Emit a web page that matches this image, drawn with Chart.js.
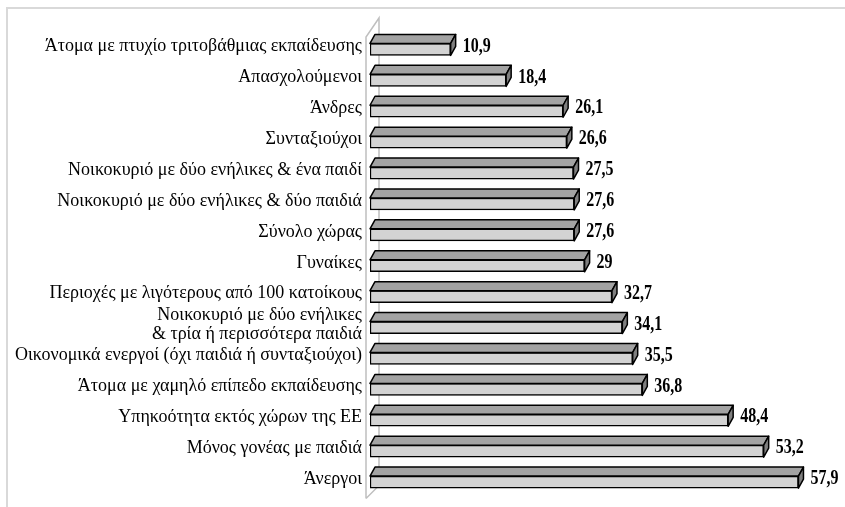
<!DOCTYPE html>
<html>
<head>
<meta charset="utf-8">
<script src="https://cdn.jsdelivr.net/npm/chart.js@4"></script>
<style>
    html, body { margin: 0; padding: 0; background: #fff; }
    #wrap { width: 845px; height: 507px; position: relative; }
</style>
</head>
<body>
<div id="wrap"><canvas id="barChart"></canvas></div>
<script>
//============================================= Data =============================================//
const categories = [
    'Άτομα με πτυχίο τριτοβάθμιας εκπαίδευσης',
    'Απασχολούμενοι',
    'Άνδρες',
    'Συνταξιούχοι',
    'Νοικοκυριό με δύο ενήλικες & ένα παιδί',
    'Νοικοκυριό με δύο ενήλικες & δύο παιδιά',
    'Σύνολο χώρας',
    'Γυναίκες',
    'Περιοχές με λιγότερους από 100 κατοίκους',
    ['Νοικοκυριό με δύο ενήλικες', '& τρία ή περισσότερα παιδιά'],
    'Οικονομικά ενεργοί (όχι παιδιά ή συνταξιούχοι)',
    'Άτομα με χαμηλό επίπεδο εκπαίδευσης',
    'Υπηκοότητα εκτός χώρων της ΕΕ',
    'Μόνος γονέας με παιδιά',
    'Άνεργοι'
];
const values = [10.9, 18.4, 26.1, 26.6, 27.5, 27.6, 27.6, 29, 32.7, 34.1, 35.5, 36.8, 48.4, 53.2, 57.9];

//============================================= 3D look =============================================//
const DX = 5, DY = 9;

const frame = {
    id: 'frame',
    beforeDraw(chart) {
        const {ctx} = chart;
        ctx.save();
        ctx.strokeStyle = '#d9d9d9';
        ctx.lineWidth = 2;
        ctx.beginPath();
        ctx.moveTo(7, 507);
        ctx.lineTo(7, 8);
        ctx.lineTo(845, 8);
        ctx.stroke();
        ctx.restore();
    }
};

const wall = {
    id: 'wall',
    beforeDatasetsDraw(chart) {
        const {ctx, chartArea} = chart;
        const x0 = chartArea.left - 4, top = chartArea.top + 3, bottom = chartArea.bottom + 1;
        ctx.save();
        ctx.strokeStyle = '#bfbfbf';
        ctx.lineWidth = 1.5;
        ctx.beginPath();
        ctx.moveTo(x0, bottom);
        ctx.lineTo(x0, top);
        ctx.lineTo(x0 + 13, top - 19);
        ctx.lineTo(x0 + 13, bottom - 13);
        ctx.lineTo(x0, bottom);
        ctx.stroke();
        ctx.restore();
    }
};

const bar3d = {
    id: 'bar3d',
    afterDatasetsDraw(chart) {
        const {ctx} = chart;
        const meta = chart.getDatasetMeta(0);
        ctx.save();
        ctx.lineWidth = 1.5;
        ctx.strokeStyle = '#000';
        ctx.lineJoin = 'round';
        meta.data.forEach((bar, i) => {
            const {x, y, base, height} = bar.getProps(['x', 'y', 'base', 'height'], true);
            const t = y - height / 2, b = y + height / 2;

            ctx.fillStyle = '#a3a3a3';
            ctx.beginPath();
            ctx.moveTo(base, t);
            ctx.lineTo(base + DX, t - DY);
            ctx.lineTo(x + DX, t - DY);
            ctx.lineTo(x, t);
            ctx.closePath();
            ctx.fill();
            ctx.stroke();

            ctx.fillStyle = '#7f7f7f';
            ctx.beginPath();
            ctx.moveTo(x, t);
            ctx.lineTo(x + DX, t - DY);
            ctx.lineTo(x + DX, b - DY);
            ctx.lineTo(x, b);
            ctx.closePath();
            ctx.fill();
            ctx.stroke();

            // narrow bold value label
            ctx.save();
            ctx.translate(x + DX + 7, y - 3);
            ctx.scale(0.8, 1);
            ctx.fillStyle = '#000';
            ctx.font = 'bold 20px "Liberation Serif"';
            ctx.textAlign = 'left';
            ctx.textBaseline = 'middle';
            ctx.fillText(String(values[i]).replace('.', ','), 0, 0);
            ctx.restore();
        });
        ctx.restore();
    }
};

//============================================= Bar chart =============================================//
const barConfig = {
    type: 'bar',
    data: {
        labels: categories,
        datasets: [{
            data: values,
            backgroundColor: '#d3d3d3',
            borderColor: '#000',
            borderWidth: 1.5,
            borderSkipped: false,
            barThickness: 12
        }]
    },
    options: {
        indexAxis: 'y',
        responsive: false,
        animation: false,
        layout: {
            padding: {top: 34, right: 31, bottom: 8, left: 0}
        },
        plugins: {
            legend: {display: false},
            tooltip: {enabled: false}
        },
        scales: {
            x: {
                min: 0,
                max: 60,
                display: false
            },
            y: {
                grid: {display: false},
                border: {display: false},
                afterFit(scale) {
                    scale.width = 370;
                },
                ticks: {
                    color: '#000',
                    padding: 0,
                    labelOffset: -3,
                    autoSkip: false,
                    font: {family: '"Liberation Serif"', size: 18, lineHeight: 1.05}
                }
            }
        }
    },
    plugins: [frame, wall, bar3d]
};

const canvas = document.getElementById('barChart');
canvas.width = 845;
canvas.height = 507;
new Chart(canvas, barConfig);
</script>
</body>
</html>
